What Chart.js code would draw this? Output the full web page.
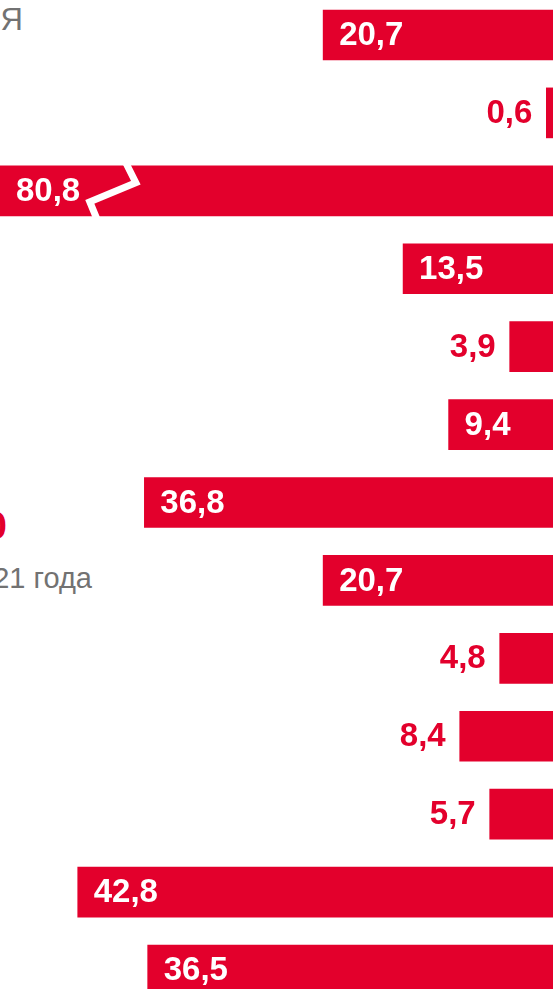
<!DOCTYPE html>
<html>
<head>
<meta charset="utf-8">
<script src="https://cdn.jsdelivr.net/npm/chart.js@4/dist/chart.umd.min.js"></script>
<style>
  html, body { margin: 0; padding: 0; background: #fff; overflow: hidden; }
  body { width: 554px; height: 989px; position: relative; font-family: "Liberation Sans", Arial, sans-serif; }
  .txt { position: absolute; white-space: nowrap; text-align: right; }
  .gris { color: #727272; font-size: 29px; line-height: 29px; }
  .rojo { color: #E3002C; font-size: 39px; line-height: 39px; font-weight: bold; }
  #caja { position: absolute; left: 0; top: -4px; width: 553px; height: 1013px; }
</style>
</head>
<body>
<div class="txt gris" style="right:531px; top:4px; font-size:31px; line-height:31px;">Я</div>
<div class="txt rojo" style="right:547px; top:506px;">0</div>
<div class="txt gris" style="right:462px; top:564px;">21 года</div>
<div id="caja"><canvas id="chart1"></canvas></div>

<script>
// datos
var categorias = ["1", "2", "3", "4", "5", "6", "7", "8", "9", "10", "11", "12", "13"];
var valores = [20.7, 0.6, 80.8, 13.5, 3.9, 9.4, 36.8, 20.7, 4.8, 8.4, 5.7, 42.8, 36.5];
var maxEje = 49.8;
var corteEn = 40;      // donde se dibuja el corte de la barra larga
var minDentro = 9;     // desde este valor la etiqueta va dentro de la barra

var rojo = "#E3002C";

function formato(v) {
  return v.toFixed(1).replace(".", ",");
}

var etiquetas = {
  id: "etiquetas",
  afterDatasetsDraw: function(chart) {
    var ctx = chart.ctx;
    var meta = chart.getDatasetMeta(0);
    var area = chart.chartArea;
    ctx.save();
    ctx.font = "bold 33px 'Liberation Sans', Arial, sans-serif";
    ctx.textBaseline = "middle";
    meta.data.forEach(function(bar, i) {
      var v = valores[i];
      var izq = Math.max(bar.x, area.left);
      // corte de barra si se sale del eje
      if (v > maxEje) {
        var b = chart.scales.x.getPixelForValue(corteEn);
        var t = bar.y - bar.height / 2;
        ctx.save();
        ctx.strokeStyle = "#fff";
        ctx.lineWidth = 7;
        ctx.lineJoin = "miter";
        ctx.beginPath();
        ctx.moveTo(b + 17, t - 3);
        ctx.lineTo(b + 27, t + 17);
        ctx.lineTo(b - 19, t + 36);
        ctx.lineTo(b - 12, t + 53);
        ctx.stroke();
        ctx.restore();
      }
      if (v >= minDentro) {
        ctx.fillStyle = "#fff";
        ctx.textAlign = "left";
        ctx.fillText(formato(v), izq + 16, bar.y + 1);
      } else {
        ctx.fillStyle = rojo;
        ctx.textAlign = "right";
        ctx.fillText(formato(v), izq - 14, bar.y + 1);
      }
    });
    ctx.restore();
  }
};

new Chart(document.getElementById("chart1"), {
  type: "bar",
  data: {
    labels: categorias,
    datasets: [{
      data: valores,
      backgroundColor: rojo,
      borderWidth: 0,
      barThickness: 50
    }]
  },
  options: {
    indexAxis: "y",
    responsive: true,
    maintainAspectRatio: false,
    animation: false,
    layout: { padding: 0 },
    plugins: {
      legend: { display: false },
      tooltip: { enabled: false }
    },
    scales: {
      x: { display: false, reverse: true, min: 0, max: maxEje, grid: { display: false } },
      y: { display: false, grid: { display: false } }
    }
  },
  plugins: [etiquetas]
});
</script>
</body>
</html>
